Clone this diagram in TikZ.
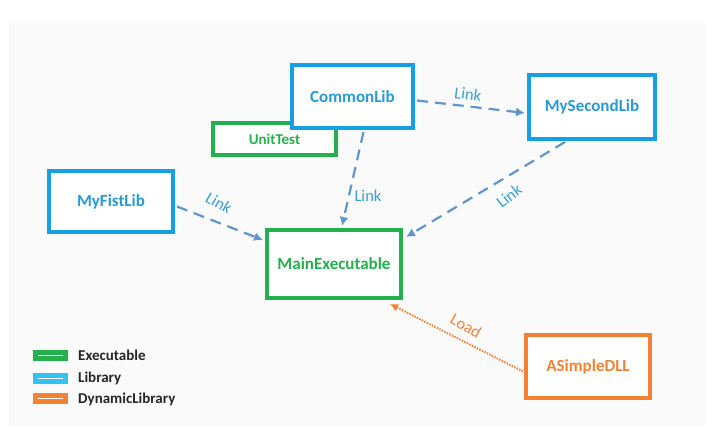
\documentclass[tikz,border=0pt]{standalone}
\usepackage{fontspec}
\setmainfont{Carlito}
\usetikzlibrary{arrows.meta,calc}
\definecolor{libblue}{RGB}{22,160,228}
\definecolor{libtext}{RGB}{40,155,215}
\definecolor{exegreen}{RGB}{34,177,76}
\definecolor{dllorange}{RGB}{245,130,50}
\definecolor{linkblue}{RGB}{95,150,210}
\definecolor{linktext}{RGB}{55,160,220}
\definecolor{bggrey}{RGB}{250,250,250}
\tikzset{
  box/.style={draw, line width=4pt, fill=white, inner sep=0pt, font=\fontsize{17}{20}\selectfont\bfseries},
  libbox/.style={box, draw=libblue, text=libtext},
  exebox/.style={box, draw=exegreen, text=exegreen},
  dllbox/.style={box, draw=dllorange, text=dllorange},
  linkarrow/.style={draw=linkblue, line width=2.2pt, dash pattern=on 11pt off 7pt, -{Latex[length=9pt,width=9pt]}},
  loadarrow/.style={draw=dllorange, line width=2pt, dash pattern=on 1.5pt off 1.3pt, -{Latex[length=8pt,width=8pt]}},
  lbl/.style={font=\fontsize{16.5}{19}\selectfont, text=linktext, inner sep=0pt},
  swatch/.style={fill=#1, draw=none, minimum width=35pt, minimum height=11pt, inner sep=0pt},
  legtext/.style={font=\fontsize{15}{18}\selectfont\bfseries, text=black!85, anchor=west, inner sep=0pt}
}
\begin{document}
\begin{tikzpicture}[x=1pt,y=-1pt]
\useasboundingbox (0,0) rectangle (712,430);
\fill[bggrey] (9,23) rectangle (705,427);

\node[exebox, minimum width=123pt, minimum height=32pt, font=\fontsize{15}{18}\selectfont\bfseries] (unit) at (274.5,139) {UnitTest};
\node[libbox, minimum width=121pt, minimum height=63pt] (common) at (352.5,96.5) {CommonLib};
\node[libbox, minimum width=126pt, minimum height=64pt] (second) at (592,107) {MySecondLib};
\node[libbox, minimum width=124pt, minimum height=61pt] (first) at (111,201.5) {MyFistLib};
\node[exebox, minimum width=134pt, minimum height=68pt] (main) at (334,264) {MainExecutable};
\node[dllbox, minimum width=124pt, minimum height=63pt] (dll) at (588,366.5) {ASimpleDLL};

\coordinate (c1s) at ($(common.east)+(2,4)$);
\coordinate (c1e) at ($(second.west)+(-2,6)$);
\coordinate (c2s) at ($(common.south)+(11,2)$);
\coordinate (c2e) at ($(main.north)+(8,-2)$);
\coordinate (c3s) at ($(first.east)+(2,5)$);
\coordinate (c3e) at ($(main.north west)+(-2,12)$);
\coordinate (c4s) at ($(second.south)+(-27,1)$);
\coordinate (c4e) at ($(main.north east)+(3,9)$);
\coordinate (c5s) at ($(dll.west)+(-1,5)$);
\coordinate (c5e) at ($(main.south east)+(-13,4)$);

\draw[linkarrow] (c1s) -- (c1e);
\draw[linkarrow] (c2s) -- (c2e);
\draw[linkarrow] (c3s) -- (c3e);
\draw[linkarrow] (c4s) -- (c4e);
\draw[loadarrow] (c5s) -- (c5e);

\node[lbl, rotate=-7] (l1) at (468,94) {Link};
\node[lbl] (l2) at (368,196) {Link};
\node[lbl, rotate=-30] (l3) at (219,203) {Link};
\node[lbl, rotate=38] (l4) at (509,196) {Link};
\node[lbl, text=dllorange, rotate=-30] (l5) at (466,326) {Load};

\node[swatch=exegreen] (s1) at (50.5,355.5) {};
\node[swatch=libblue!75!cyan!85!white] (s2) at (50.5,378.5) {};
\node[swatch=dllorange] (s3) at (50.5,398.5) {};
\foreach \s in {s1,s2,s3} \draw[white, line width=1.6pt] ($(\s.west)+(5,0)$) -- ($(\s.east)+(-5,0)$);
\node[legtext] (t1) at (78,355.5) {Executable};
\node[legtext] (t2) at (78,378.5) {Library};
\node[legtext] (t3) at (78,399) {DynamicLibrary};
\end{tikzpicture}
\end{document}
